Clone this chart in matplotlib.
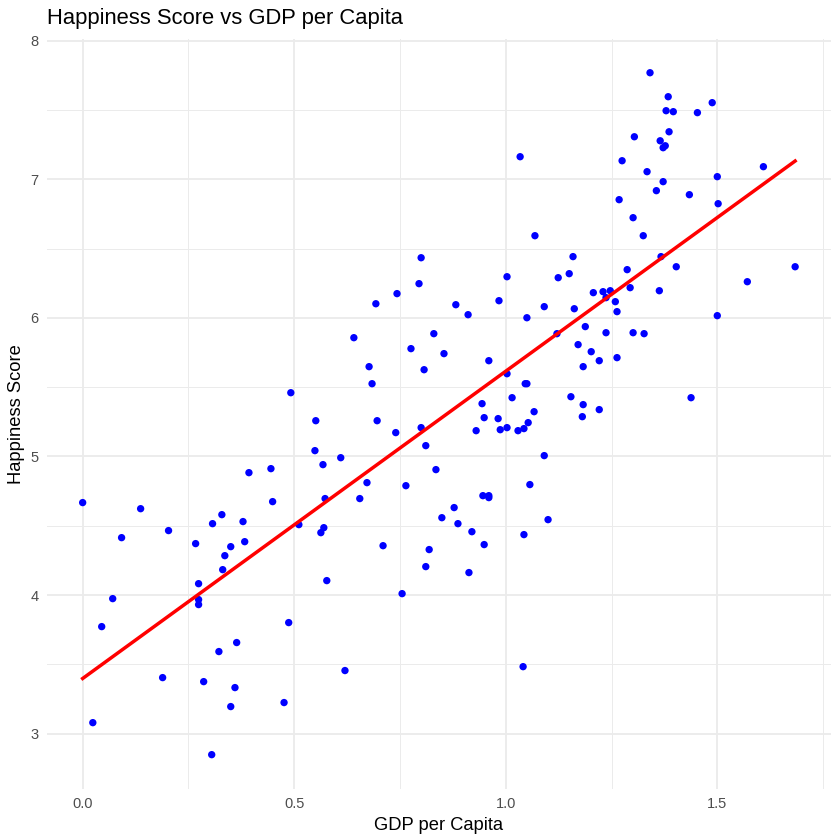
import matplotlib.pyplot as plt
import numpy as np

plt.rcParams['font.family'] = ['Liberation Sans', 'DejaVu Sans']

# GDP per capita (x) and happiness score (y)
gdp = [0.000, 0.024, 0.045, 0.071, 0.092, 0.137, 0.189, 0.203, 0.267, 0.274,
       0.274, 0.274, 0.286, 0.305, 0.307, 0.322, 0.329, 0.331, 0.336, 0.350,
       0.360, 0.350, 0.364, 0.379, 0.383, 0.393, 0.445, 0.449, 0.476, 0.487,
       0.492, 0.511, 0.551, 0.549, 0.563, 0.570, 0.568, 0.573, 0.577, 0.610,
       0.620, 0.641, 0.655, 0.672, 0.677, 0.684, 0.693, 0.696, 0.710, 0.740,
       0.743, 0.755, 0.764, 0.776, 0.795, 0.800, 0.800, 0.807, 0.811, 0.811,
       0.819, 0.830, 0.835, 0.849, 0.854, 0.878, 0.882, 0.887, 0.911, 0.913,
       0.920, 0.930, 0.944, 0.949, 0.946, 0.949, 0.960, 0.960, 0.960, 0.982,
       0.984, 0.987, 1.003, 1.003, 1.003, 1.015, 1.029, 1.034, 1.043, 1.043,
       1.046, 1.050, 1.050, 1.053, 1.041, 1.057, 1.067, 1.069, 1.091, 1.091,
       1.100, 1.121, 1.124, 1.150, 1.154, 1.159, 1.162, 1.171, 1.181, 1.183,
       1.183, 1.188, 1.202, 1.207, 1.221, 1.221, 1.230, 1.237, 1.237, 1.247,
       1.259, 1.263, 1.263, 1.268, 1.275, 1.287, 1.294, 1.301, 1.301, 1.304,
       1.325, 1.327, 1.334, 1.341, 1.356, 1.363, 1.365, 1.367, 1.372, 1.372,
       1.377, 1.384, 1.379, 1.386, 1.396, 1.403, 1.434, 1.438, 1.453, 1.488,
       1.500, 1.500, 1.502, 1.571, 1.609, 1.684]
score = [4.667, 3.079, 3.772, 3.974, 4.414, 4.623, 3.404, 4.465, 4.371, 4.082,
         3.967, 3.931, 3.375, 2.848, 4.515, 3.592, 4.580, 4.183, 4.284, 4.349,
         3.332, 3.195, 3.657, 4.530, 4.385, 4.883, 4.912, 4.674, 3.224, 3.801,
         5.460, 4.508, 5.258, 5.042, 4.450, 4.486, 4.941, 4.696, 4.104, 4.991,
         3.455, 5.857, 4.696, 4.811, 5.648, 5.525, 6.102, 5.258, 4.356, 5.172,
         6.175, 4.010, 4.789, 5.778, 6.247, 6.434, 5.208, 5.626, 4.205, 5.078,
         4.328, 5.886, 4.905, 4.558, 5.742, 4.631, 6.095, 4.515, 6.023, 4.162,
         4.457, 5.186, 5.381, 5.280, 4.717, 4.364, 4.717, 4.703, 5.691, 5.273,
         6.124, 5.193, 5.208, 5.597, 6.297, 5.424, 5.186, 7.163, 5.201, 4.436,
         5.525, 5.525, 6.001, 5.244, 3.483, 4.797, 5.323, 6.593, 5.006, 6.081,
         4.544, 5.886, 6.290, 6.319, 5.431, 6.442, 6.066, 5.807, 5.287, 5.648,
         5.374, 5.937, 5.756, 6.182, 5.691, 5.338, 6.189, 5.893, 6.146, 6.196,
         6.117, 6.045, 5.713, 6.853, 7.134, 6.348, 6.218, 6.723, 5.893, 7.307,
         6.593, 5.886, 7.055, 7.769, 6.918, 6.196, 7.278, 6.442, 6.983, 7.228,
         7.242, 7.596, 7.495, 7.343, 7.488, 6.369, 6.889, 5.424, 7.481, 7.553,
         7.019, 6.016, 6.824, 6.261, 7.091, 6.369]

x = np.array(gdp)
y = np.array(score)

fig = plt.figure(figsize=(8.4, 8.4), dpi=100)
ax = fig.add_axes([0.056, 0.061, 0.933, 0.893])

# ggplot-like 5% expansion
xr = x.max() - x.min()
yr = y.max() - y.min()
ax.set_xlim(x.min() - 0.05 * xr, x.max() + 0.05 * xr)
ax.set_ylim(y.min() - 0.05 * yr, y.max() + 0.05 * yr)

ax.set_xticks([0.0, 0.5, 1.0, 1.5])
ax.set_xticklabels(['0.0', '0.5', '1.0', '1.5'])
ax.set_yticks([3, 4, 5, 6, 7, 8])
ax.set_xticks([0.25, 0.75, 1.25, 1.75], minor=True)
ax.set_yticks([3.5, 4.5, 5.5, 6.5, 7.5], minor=True)

ax.grid(which='major', color='#EBEBEB', linewidth=1.3)
ax.grid(which='minor', color='#EBEBEB', linewidth=0.7)
ax.set_axisbelow(True)
for s in ax.spines.values():
    s.set_visible(False)
ax.tick_params(which='both', length=0, colors='#4D4D4D', labelsize=10.5, pad=6)

ax.scatter(x, y, s=28, color='blue', edgecolors='none', zorder=3)

# linear fit
slope, icpt = np.polyfit(x, y, 1)
xs = np.array([x.min(), x.max()])
ax.plot(xs, icpt + slope * xs, color='red', linewidth=2.5, zorder=4)

ax.set_xlabel('GDP per Capita', fontsize=13.2, labelpad=4)
ax.set_ylabel('Happiness Score', fontsize=13.2, labelpad=4)
fig.text(0.056, 0.978, 'Happiness Score vs GDP per Capita', fontsize=15.8,
         ha='left', va='center')

fig.savefig('out.png', dpi=100)
